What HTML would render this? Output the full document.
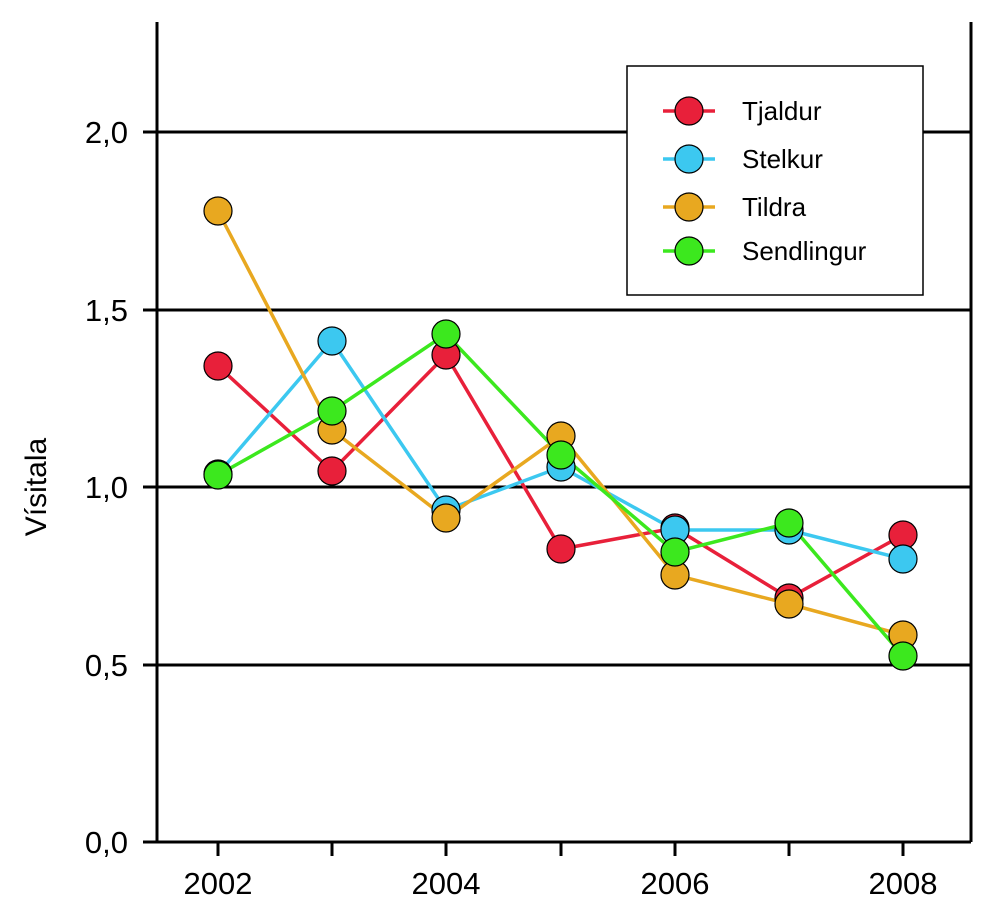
<!DOCTYPE html>
<html><head><meta charset="utf-8"><style>body{margin:0;background:#fff}svg{display:block}</style></head><body>
<svg width="1000" height="903" xmlns="http://www.w3.org/2000/svg" font-family="Liberation Sans, Arial, sans-serif">
<rect width="1000" height="903" fill="#fff"/>
<g stroke="#000" stroke-width="3">
<line x1="157" y1="132" x2="971" y2="132"/>
<line x1="157" y1="310" x2="971" y2="310"/>
<line x1="157" y1="487" x2="971" y2="487"/>
<line x1="157" y1="665" x2="971" y2="665"/>
<line x1="157" y1="22" x2="157" y2="842"/>
<line x1="971" y1="22" x2="971" y2="842"/>
<line x1="143" y1="842" x2="971" y2="842"/>
<line x1="143" y1="132" x2="157" y2="132"/><line x1="143" y1="310" x2="157" y2="310"/><line x1="143" y1="487" x2="157" y2="487"/><line x1="143" y1="665" x2="157" y2="665"/>
<line x1="218" y1="842" x2="218" y2="856"/><line x1="332" y1="842" x2="332" y2="856"/><line x1="446" y1="842" x2="446" y2="856"/><line x1="561" y1="842" x2="561" y2="856"/><line x1="675" y1="842" x2="675" y2="856"/><line x1="789" y1="842" x2="789" y2="856"/><line x1="903" y1="842" x2="903" y2="856"/>
</g>
<g font-size="31" text-anchor="end">
<text x="128" y="143">2,0</text><text x="128" y="321">1,5</text><text x="128" y="498">1,0</text><text x="128" y="676">0,5</text><text x="128" y="853">0,0</text>
</g>
<g font-size="31" text-anchor="middle">
<text x="218" y="894">2002</text><text x="446" y="894">2004</text><text x="675" y="894">2006</text><text x="903" y="894">2008</text>
</g>
<text font-size="30" text-anchor="middle" transform="translate(46,487) rotate(-90)">Vísitala</text>
<g fill="none" stroke-width="3.5">
<polyline stroke="#e8203a" points="218,366 332,471 446,355 561,549 675,528 789,598 903,535"/>
<polyline stroke="#3cc8f0" points="218,474 332,341 446,510 561,467 675,530 789,530 903,559"/>
<polyline stroke="#e8a820" points="218,211 332,430 446,518 561,436 675,575 789,604 903,635"/>
<polyline stroke="#3ce81e" points="218,475 332,411 446,334 561,455 675,552 789,523 903,656"/>
</g>
<g stroke="#000" stroke-width="1.2">
<g fill="#e8203a"><circle cx="218" cy="366" r="14"/><circle cx="332" cy="471" r="14"/><circle cx="446" cy="355" r="14"/><circle cx="561" cy="549" r="14"/><circle cx="675" cy="528" r="14"/><circle cx="789" cy="598" r="14"/><circle cx="903" cy="535" r="14"/></g>
<g fill="#3cc8f0"><circle cx="218" cy="474" r="14"/><circle cx="332" cy="341" r="14"/><circle cx="446" cy="510" r="14"/><circle cx="561" cy="467" r="14"/><circle cx="675" cy="530" r="14"/><circle cx="789" cy="530" r="14"/><circle cx="903" cy="559" r="14"/></g>
<g fill="#e8a820"><circle cx="218" cy="211" r="14"/><circle cx="332" cy="430" r="14"/><circle cx="446" cy="518" r="14"/><circle cx="561" cy="436" r="14"/><circle cx="675" cy="575" r="14"/><circle cx="789" cy="604" r="14"/><circle cx="903" cy="635" r="14"/></g>
<g fill="#3ce81e"><circle cx="218" cy="475" r="14"/><circle cx="332" cy="411" r="14"/><circle cx="446" cy="334" r="14"/><circle cx="561" cy="455" r="14"/><circle cx="675" cy="552" r="14"/><circle cx="789" cy="523" r="14"/><circle cx="903" cy="656" r="14"/></g>
</g>
<rect x="627" y="66" width="296" height="229" fill="#fff" stroke="#000" stroke-width="1.5"/>
<g stroke-width="3.5">
<line x1="663" y1="111" x2="715" y2="111" stroke="#e8203a"/><circle cx="689" cy="111" r="14" fill="#e8203a" stroke="#000" stroke-width="1.2"/>
<line x1="663" y1="159" x2="715" y2="159" stroke="#3cc8f0"/><circle cx="689" cy="159" r="14" fill="#3cc8f0" stroke="#000" stroke-width="1.2"/>
<line x1="663" y1="207" x2="715" y2="207" stroke="#e8a820"/><circle cx="689" cy="207" r="14" fill="#e8a820" stroke="#000" stroke-width="1.2"/>
<line x1="663" y1="251" x2="715" y2="251" stroke="#3ce81e"/><circle cx="689" cy="251" r="14" fill="#3ce81e" stroke="#000" stroke-width="1.2"/>
</g>
<g font-size="26">
<text x="742" y="120">Tjaldur</text><text x="742" y="168">Stelkur</text><text x="742" y="216">Tildra</text><text x="742" y="260">Sendlingur</text>
</g>
</svg>
</body></html>
